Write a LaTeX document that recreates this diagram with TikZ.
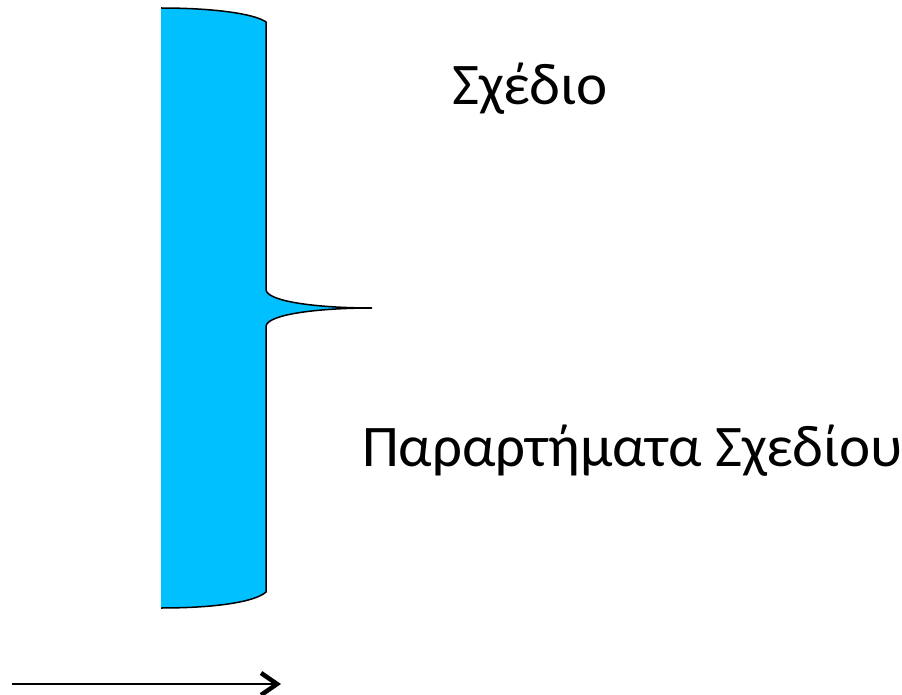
\documentclass[tikz,border=0pt]{standalone}
\usepackage{fontspec}
\setmainfont{Carlito}
\usetikzlibrary{arrows.meta}
\definecolor{bracefill}{RGB}{0,192,255}
\tikzset{
  braceline/.style={draw=black, line width=1.5pt},
  lbl/.style={anchor=base west, inner sep=0pt, font=\fontsize{59}{70}\selectfont},
  arrowline/.style={line width=2pt, -{Straight Barb[length=16pt,width=22pt,line width=4.5pt]}}
}
\begin{document}
\begin{tikzpicture}[x=1pt,y=-1pt]
\useasboundingbox (0,0) rectangle (902,695);
\fill[bracefill] (161,8) .. controls (215,8) and (255,14) .. (266,22) -- (266,290) .. controls (268,302) and (320,308) .. (372,308) .. controls (320,308) and (268,314) .. (266,326) -- (266,592) .. controls (255,602) and (215,608) .. (161,608) -- cycle;
\draw[braceline] (161,8) .. controls (215,8) and (255,14) .. (266,22) -- (266,290) .. controls (268,302) and (320,308) .. (372,308) .. controls (320,308) and (268,314) .. (266,326) -- (266,592) .. controls (255,602) and (215,608) .. (161,608);
\node[lbl] (plan) at (452,105) {Σχέδιο};
\node[lbl] (annex) at (362,466) {Παραρτήματα Σχεδίου};
\coordinate (a1) at (12,684);
\coordinate (a2) at (281,684);
\draw[arrowline] (a1) -- (a2);
\end{tikzpicture}
\end{document}
